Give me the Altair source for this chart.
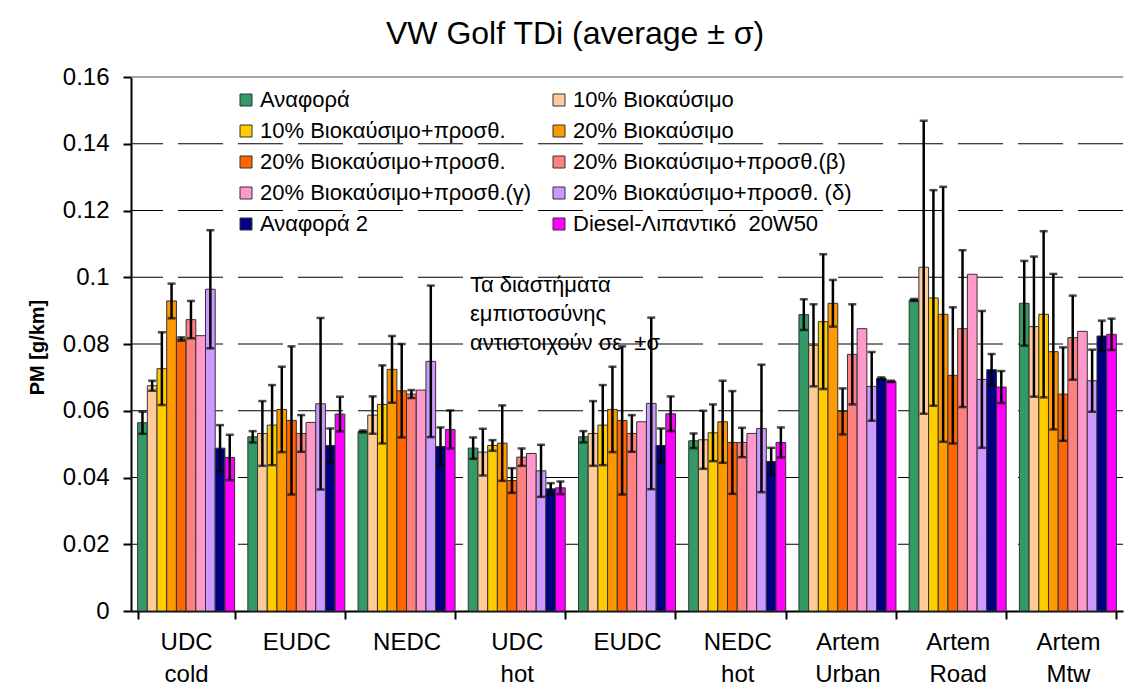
import altair as alt
import pandas as pd

FONT = "Liberation Sans"

groups = ["UDC\ncold", "EUDC", "NEDC", "UDC\nhot", "EUDC", "NEDC\nhot",
          "Artem\nUrban", "Artem\nRoad", "Artem\nMtw"]

series = ["Αναφορά", "10% Βιοκαύσιμο", "10% Βιοκαύσιμο+προσθ.", "20% Βιοκαύσιμο",
          "20% Βιοκαύσιμο+προσθ.", "20% Βιοκαύσιμο+προσθ.(β)", "20% Βιοκαύσιμο+προσθ.(γ)",
          "20% Βιοκαύσιμο+προσθ. (δ)", "Αναφορά 2", "Diesel-Λιπαντικό\u00a0 20W50"]

colors = ["#339966", "#FFCC99", "#FFCC00", "#FF9900", "#FF6600",
          "#FF8080", "#FF99CC", "#CC99FF", "#000080", "#FF00FF"]

m_ref = [0.0564, 0.0522, 0.0538, 0.0488, 0.0522, 0.0510, 0.0888, 0.0932, 0.0922]
s_ref = [0.0033, 0.0017, 0.0003, 0.0032, 0.0017, 0.0022, 0.0046, 0.0003, 0.0127]
m_b10 = [0.0675, 0.0532, 0.0587, 0.0476, 0.0532, 0.0513, 0.0796, 0.1030, 0.0852]
s_b10 = [0.0015, 0.0097, 0.0056, 0.0070, 0.0097, 0.0087, 0.0123, 0.0439, 0.0210]
m_b10a = [0.0726, 0.0557, 0.0619, 0.0496, 0.0557, 0.0534, 0.0867, 0.0938, 0.0889]
s_b10a = [0.0109, 0.0120, 0.0117, 0.0016, 0.0120, 0.0085, 0.0202, 0.0323, 0.0249]
m_b20 = [0.0929, 0.0604, 0.0724, 0.0503, 0.0604, 0.0567, 0.0922, 0.0889, 0.0777]
s_b20 = [0.0052, 0.0128, 0.0100, 0.0113, 0.0128, 0.0123, 0.0070, 0.0382, 0.0233]
m_b20a = [0.0815, 0.0571, 0.0660, 0.0391, 0.0571, 0.0505, 0.0598, 0.0706, 0.0650]
s_b20a = [0.0005, 0.0222, 0.0140, 0.0037, 0.0222, 0.0154, 0.0069, 0.0204, 0.0140]
m_beta = [0.0873, 0.0532, 0.0650, 0.0461, 0.0532, 0.0505, 0.0769, 0.0846, 0.0819]
s_beta = [0.0056, 0.0055, 0.0012, 0.0026, 0.0055, 0.0044, 0.0150, 0.0235, 0.0126]
m_gamma = [0.0825, 0.0565, 0.0662, 0.0472, 0.0567, 0.0532, 0.0846, 0.1009, 0.0838]
s_gamma = [0, 0, 0, 0, 0, 0, 0, 0, 0]
m_delta = [0.0964, 0.0621, 0.0748, 0.0420, 0.0622, 0.0547, 0.0673, 0.0694, 0.0690]
s_delta = [0.0177, 0.0257, 0.0227, 0.0078, 0.0257, 0.0191, 0.0103, 0.0205, 0.0093]
m_ref2 = [0.0488, 0.0496, 0.0493, 0.0366, 0.0496, 0.0448, 0.0697, 0.0723, 0.0824]
s_ref2 = [0.0069, 0.0051, 0.0057, 0.0017, 0.0051, 0.0041, 0.0003, 0.0047, 0.0046]
m_dsl = [0.0460, 0.0590, 0.0544, 0.0369, 0.0591, 0.0505, 0.0688, 0.0671, 0.0829]
s_dsl = [0.0068, 0.0052, 0.0057, 0.0019, 0.0052, 0.0045, 0.0002, 0.0048, 0.0047]

means = [m_ref, m_b10, m_b10a, m_b20, m_b20a, m_beta, m_gamma, m_delta, m_ref2, m_dsl]
sigmas = [s_ref, s_b10, s_b10a, s_b20, s_b20a, s_beta, s_gamma, s_delta, s_ref2, s_dsl]

y_ticks = [0, 0.02, 0.04, 0.06, 0.08, 0.1, 0.12, 0.14, 0.16]
grid_vals = [0.02, 0.04, 0.06, 0.08, 0.1, 0.12, 0.14]
top_val = [0.16]

note_text = "Τα διαστήματα\nεμπιστοσύνης\nαντιστοιχούν σε\u00a0 ±σ"
title_text = "VW Golf TDi (average ± σ)"
y_title = "PM [g/km]"

rows = []
for si, s in enumerate(series):
    for gi in range(len(groups)):
        m = means[si][gi]
        sd = sigmas[si][gi]
        rows.append({"g": gi, "s": s, "m": m, "sd": sd, "lo": m - sd, "hi": m + sd})
df = pd.DataFrame(rows)
df_err = df[df["sd"] > 0]

# legend is laid out column by column: order the domain so rows read pairwise
legend_order = series[0::2] + series[1::2]
legend_colors = colors[0::2] + colors[1::2]

label_expr = "[" + ",".join(
    "[" + ",".join("'" + p + "'" for p in g.split("\n")) + "]" for g in groups
) + "][datum.value]"

x_enc = alt.X("g:O", title=None,
              scale=alt.Scale(paddingInner=0.12, paddingOuter=0.06),
              axis=alt.Axis(labelExpr=label_expr, labelAngle=0, labelFont=FONT,
                            labelFontSize=24, labelLineHeight=32, labelPadding=11,
                            labelColor="black", tickBand="extent", tickSize=8,
                            tickWidth=2, tickColor="black", domainColor="black",
                            domainWidth=2, grid=False, labelBaseline="top"))
y_scale = alt.Scale(domain=[0, 0.16], nice=False)
xo = alt.XOffset("s:N", sort=series, scale=alt.Scale(paddingInner=0, paddingOuter=0))

grid = alt.Chart(pd.DataFrame({"v": grid_vals})).mark_rule(
    color="black", strokeWidth=1, strokeDash=[45, 15]
).encode(y=alt.Y("v:Q", scale=y_scale))

top_line = alt.Chart(pd.DataFrame({"v": top_val})).mark_rule(
    color="#888888", strokeWidth=1.5
).encode(y=alt.Y("v:Q", scale=y_scale))

bars = alt.Chart(df).mark_bar(stroke="#333333", strokeWidth=1).encode(
    x=x_enc,
    xOffset=xo,
    y=alt.Y("m:Q", scale=y_scale, title=y_title,
            axis=alt.Axis(values=y_ticks, format="~g", labelFont=FONT, labelFontSize=24,
                          labelColor="black", labelPadding=14, tickSize=8, tickWidth=2,
                          tickColor="black", domainColor="black", domainWidth=2,
                          grid=False, titleFont=FONT, titleFontSize=20,
                          titleFontWeight="bold", titleColor="black", titleAngle=-90,
                          titleX=-94, titleY=270, titleAlign="center",
                          titleBaseline="middle")),
    color=alt.Color("s:N",
                    scale=alt.Scale(domain=legend_order, range=legend_colors),
                    legend=alt.Legend(title=None, orient="none", legendX=104, legendY=12,
                                      columns=2, columnPadding=16, rowPadding=9,
                                      symbolType="square", symbolSize=144,
                                      symbolStrokeColor="#333333", symbolStrokeWidth=1,
                                      labelFont=FONT, labelFontSize=22, labelColor="black",
                                      labelLimit=500, padding=0, labelOffset=3)),
)

err = alt.Chart(df_err).mark_rule(color="black", strokeWidth=2.5).encode(
    x=x_enc, xOffset=xo, y=alt.Y("lo:Q", scale=y_scale), y2="hi:Q"
)
cap_hi = alt.Chart(df_err).mark_tick(color="black", thickness=2.5, size=8).encode(
    x=x_enc, xOffset=xo, y=alt.Y("hi:Q", scale=y_scale)
)
cap_lo = alt.Chart(df_err).mark_tick(color="black", thickness=2.5, size=8).encode(
    x=x_enc, xOffset=xo, y=alt.Y("lo:Q", scale=y_scale)
)

note = alt.Chart(pd.DataFrame({"t": [note_text]})).mark_text(
    align="left", baseline="top", font=FONT, fontSize=22, lineHeight=29,
    lineBreak="\n", color="black"
).encode(text="t:N", x=alt.value(339), y=alt.value(198))

chart = alt.layer(grid, top_line, bars, err, cap_hi, cap_lo, note).properties(
    width=992, height=534,
    autosize=alt.AutoSizeParams(type="none"),
    padding={"left": 123, "top": 69, "right": 2, "bottom": 77},
    title=alt.Title(title_text, font=FONT, fontSize=32, fontWeight="normal",
                    color="black", anchor="middle", dx=-52, offset=14),
).configure_view(stroke=None).configure_axis(labelOverlap=False)

chart.save("out.html", embed_options={"renderer": "svg", "actions": False})
